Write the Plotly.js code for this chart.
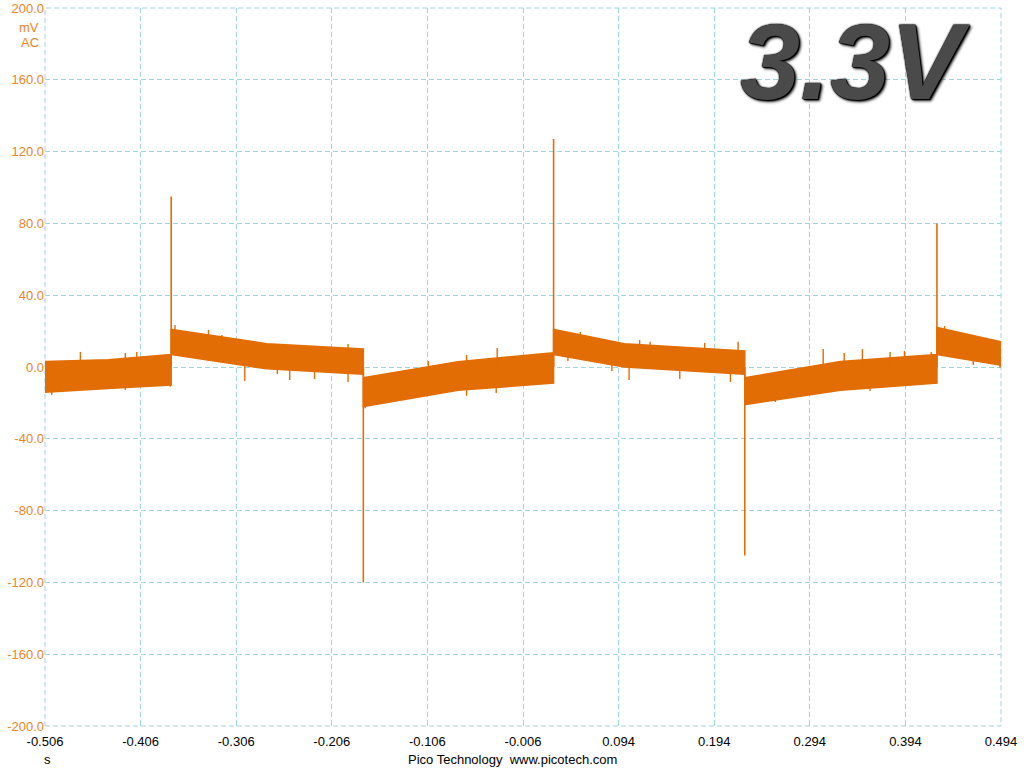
<!DOCTYPE html>
<html>
<head>
<meta charset="utf-8">
<script src="https://cdn.plot.ly/plotly-3.0.1.min.js"></script>
<style>
html,body{margin:0;padding:0;background:#fff;}
#chart{width:1024px;height:768px;}
</style>
</head>
<body>
<div id="chart"></div>
<script>
// Noise band envelope (mV)
var envTime  = [-0.506, -0.440, -0.374, -0.374, -0.274, -0.173, -0.173, -0.074, 0.026, 0.026, 0.100, 0.226, 0.226, 0.326, 0.427, 0.427, 0.494];
var envUpper = [3, 4, 7, 21, 13, 10, -6, 3, 8, 21, 13, 9, -6, 3, 7, 22, 14];
var envLower = [-14, -12, -10, 7, -1, -4, -22, -13, -9, 7, 0, -4, -21, -13, -9, 7, 1];

// Switching spikes
var spikeTimes = [-0.374, -0.173, 0.026, 0.226, 0.427];
var spikePeaks = [95, -120, 127, -105, 80];

// Visible noise outliers
var outTimes  = [-0.499, -0.469, -0.422, -0.422, -0.410, -0.375, -0.370, -0.335, -0.321, -0.297, -0.263,
                 -0.250, -0.224, -0.189, -0.189, -0.171, -0.116, -0.105, -0.065, -0.065, -0.034, -0.033,
                 0.041, 0.054, 0.087, 0.105, 0.116, 0.127, 0.158, 0.184, 0.211, 0.219,
                 0.258, 0.308, 0.317, 0.330, 0.349, 0.357, 0.378, 0.393, 0.421, 0.435, 0.465, 0.493];
var outValues = [-15.6, 8.4, 7.8, -12.8, 8.4, -11, 23.4, 20.6, 17.8, -7.8, -3.9,
                 -7.2, -6.7, 12.8, -8.4, -23, -16.7, 3.3, 6.7, -16, -14.5, 10.6,
                 3.3, 19.5, -2.2, -7.2, 15, 14, -6.7, 13.4, -8.4, 14,
                 -19.5, 10, -13.9, 7.8, 10, -13.4, 8.4, 8.9, 8.4, 22.8, 1.1, -0.6];

var xTickVals = [-0.506, -0.406, -0.306, -0.206, -0.106, -0.006, 0.094, 0.194, 0.294, 0.394, 0.494];
var xTickText = ["-0.506", "-0.406", "-0.306", "-0.206", "-0.106", "-0.006", "0.094", "0.194", "0.294", "0.394", "0.494"];
var yTickVals = [-200, -160, -120, -80, -40, 0, 40, 80, 120, 160, 200];
var yTickText = ["-200.0", "-160.0", "-120.0", "-80.0", "-40.0", "0.0", "40.0", "80.0", "120.0", "160.0", "200.0"];

var traceColor = '#E26D05';
var labelOrange = '#EC8427';
var gridColor = '#9ED4E4';
var fontFam = 'Arial, "Liberation Sans", sans-serif';

function bandMid(t) {
  for (var i = 0; i < envTime.length - 1; i++) {
    if (envTime[i+1] > envTime[i] && t >= envTime[i] && t <= envTime[i+1]) {
      var f = (t - envTime[i]) / (envTime[i+1] - envTime[i]);
      var u = envUpper[i] + f * (envUpper[i+1] - envUpper[i]);
      var l = envLower[i] + f * (envLower[i+1] - envLower[i]);
      return (u + l) / 2;
    }
  }
  return 0;
}

var polyX = envTime.concat(envTime.slice().reverse());
var polyY = envUpper.concat(envLower.slice().reverse());

var band = {
  x: polyX, y: polyY, type: 'scatter', mode: 'lines',
  fill: 'toself', fillcolor: traceColor,
  line: {color: traceColor, width: 1.5}, hoverinfo: 'skip', showlegend: false
};

var ox = [], oy = [];
for (var i = 0; i < outTimes.length; i++) {
  ox.push(outTimes[i], outTimes[i], null);
  oy.push(bandMid(outTimes[i]), outValues[i], null);
}
var outliers = {x: ox, y: oy, type: 'scatter', mode: 'lines',
  line: {color: traceColor, width: 1.4}, hoverinfo: 'skip', showlegend: false};

var sx = [], sy = [];
for (var j = 0; j < spikeTimes.length; j++) {
  sx.push(spikeTimes[j], spikeTimes[j], null);
  sy.push(0, spikePeaks[j], null);
}
var spikes = {x: sx, y: sy, type: 'scatter', mode: 'lines',
  line: {color: traceColor, width: 1.6}, hoverinfo: 'skip', showlegend: false};

var layout = {
  width: 1024, height: 768,
  margin: {l: 45, r: 23, t: 8, b: 42, pad: 0},
  paper_bgcolor: '#ffffff', plot_bgcolor: '#ffffff',
  showlegend: false,
  font: {family: fontFam, size: 13, color: '#000'},
  xaxis: {
    range: [-0.506, 0.494], tickvals: xTickVals, ticktext: xTickText,
    showgrid: true, gridcolor: gridColor, griddash: '5px,3px', gridwidth: 1,
    zeroline: false, showline: false,
    ticks: 'inside', ticklen: 3, tickcolor: gridColor,
    ticklabelstandoff: 6,
    tickfont: {family: fontFam, size: 13, color: '#000'}
  },
  yaxis: {
    range: [-200, 200], tickvals: yTickVals, ticktext: yTickText,
    showgrid: true, gridcolor: gridColor, griddash: '5px,3px', gridwidth: 1,
    zeroline: false, showline: false, ticks: '',
    tickfont: {family: fontFam, size: 13, color: labelOrange}
  },
  shapes: [
    {type: 'rect', xref: 'paper', yref: 'paper', x0: 0, x1: 1, y0: 0, y1: 1,
     line: {color: gridColor, width: 1, dash: '5px,3px'}, layer: 'below'}
  ],
  annotations: [
    {xref: 'paper', yref: 'paper', x: -0.004, y: 0.9735, xanchor: 'right', yanchor: 'middle',
     text: 'mV', showarrow: false, font: {family: fontFam, size: 13, color: labelOrange}},
    {xref: 'paper', yref: 'paper', x: -0.004, y: 0.9526, xanchor: 'right', yanchor: 'middle',
     text: 'AC', showarrow: false, font: {family: fontFam, size: 13, color: labelOrange}},
    {xref: 'paper', yref: 'paper', x: 0.003, y: -0.047, xanchor: 'center', yanchor: 'middle',
     text: 's', showarrow: false, font: {family: fontFam, size: 13, color: '#000'}},
    {xref: 'paper', yref: 'paper', x: 0.4895, y: -0.047, xanchor: 'center', yanchor: 'middle',
     text: 'Pico Technology\u00a0\u00a0www.picotech.com', showarrow: false,
     font: {family: fontFam, size: 13, color: '#000'}},
    {xref: 'paper', yref: 'paper', x: 0.847, y: 0.925, xanchor: 'center', yanchor: 'middle',
     text: '3.3V', showarrow: false,
     font: {family: fontFam, size: 108, color: '#4a4a4a', style: 'italic', weight: 'bold',
            shadow: '0 0 1px #000, 0 0 2px #000, 1px 1px 1px #000, 2px 2px 3px #111'}}
  ]
};

Plotly.newPlot('chart', [band, outliers, spikes], layout, {staticPlot: true, displayModeBar: false});
</script>
</body>
</html>
